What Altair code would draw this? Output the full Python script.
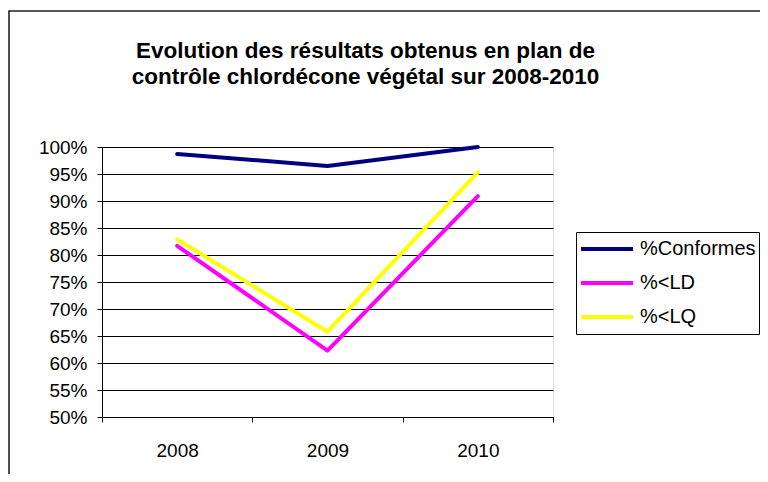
import altair as alt
import pandas as pd

years = ["2008", "2009", "2010"]
series_names = ["%Conformes", "%<LD", "%<LQ"]
conformes = [0.987, 0.965, 1.0]
ld = [0.817, 0.623, 0.909]
lq = [0.829, 0.658, 0.953]
colors = ["#000080", "#FF00FF", "#FFFF00"]
y_ticks = [0.50, 0.55, 0.60, 0.65, 0.70, 0.75, 0.80, 0.85, 0.90, 0.95, 1.00]

rows = []
for name, vals in zip(series_names, [conformes, ld, lq]):
    for yr, v in zip(years, vals):
        rows.append({"year": yr, "series": name, "value": v})
df = pd.DataFrame(rows)

FONT = "Liberation Sans"

frame = alt.Chart(alt.Data(values=[{}])).mark_rect(
    fill="white", fillOpacity=0, stroke="#222222", strokeWidth=1.6
).encode(
    x=alt.value(-93), x2=alt.value(700), y=alt.value(-136), y2=alt.value(400)
)

lines = alt.Chart(df).mark_line(strokeWidth=4, strokeCap="round", strokeJoin="round").encode(
    x=alt.X(
        "year:O",
        bandPosition=0.5,
        scale=alt.Scale(type="band", domain=years, paddingInner=0, paddingOuter=0),
        axis=alt.Axis(
            title=None,
            labelAngle=0,
            tickBand="extent",
            tickSize=5,
            tickColor="black",
            domainColor="black",
            labelFontSize=19,
            labelFont=FONT,
            labelColor="black",
            labelPadding=19,
            grid=False,
        ),
    ),
    y=alt.Y(
        "value:Q",
        scale=alt.Scale(domain=[0.5, 1.0], nice=False, zero=False),
        axis=alt.Axis(
            title=None,
            values=y_ticks,
            format=".0%",
            tickSize=5,
            tickColor="black",
            domainColor="black",
            grid=True,
            gridColor="black",
            gridOpacity=1,
            gridWidth=1,
            labelFontSize=19,
            labelFont=FONT,
            labelColor="black",
            labelPadding=10,
        ),
    ),
    color=alt.Color(
        "series:N",
        scale=alt.Scale(domain=series_names, range=colors),
        sort=series_names,
        title=None,
        legend=alt.Legend(
            orient="none",
            legendX=474,
            legendY=85,
            symbolType="stroke",
            symbolSize=2704,
            symbolStrokeWidth=4,
            clipHeight=28,
            rowPadding=6,
            labelOffset=5,
            labelFontSize=20,
            labelFont=FONT,
            labelColor="black",
            padding=3,
            strokeColor="black",
            labelLimit=300,
        ),
    ),
    order=alt.Order("year:O"),
)

chart = alt.layer(frame, lines).properties(
    width=451,
    height=270,
    autosize=alt.AutoSizeParams(type="none"),
    padding={"left": 94, "top": 139, "right": 207, "bottom": 57},
    title=alt.TitleParams(
        text=["Evolution des résultats obtenus en plan de",
              "contrôle chlordécone végétal sur 2008-2010"],
        font=FONT,
        fontSize=22.5,
        fontWeight="bold",
        color="black",
        anchor="middle",
        frame="group",
        lineHeight=26,
        dx=38,
        offset=-78,
    ),
).configure_view(stroke="#808080", strokeWidth=1).configure(background="white")

chart.save("out.html", embed_options={"renderer": "svg", "actions": False})
